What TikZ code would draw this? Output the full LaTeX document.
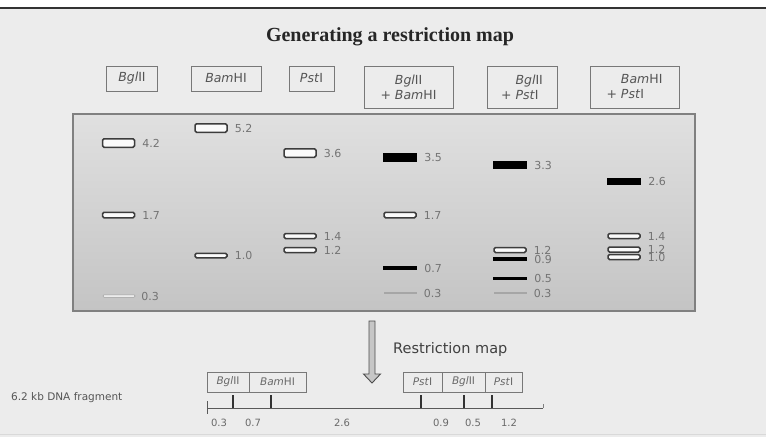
\documentclass[tikz,border=0pt]{standalone}
\usepackage{fontspec}
\setmainfont{Liberation Serif}
\setsansfont{DejaVu Sans}
\usetikzlibrary{positioning}

\definecolor{bg}{RGB}{236,236,236}
\definecolor{gelTop}{RGB}{224,224,224}
\definecolor{gelBot}{RGB}{196,196,196}
\definecolor{gelEdge}{RGB}{128,128,128}
\definecolor{boxEdge}{RGB}{120,120,120}
\definecolor{enzText}{RGB}{85,85,85}
\definecolor{bandEdge}{RGB}{60,60,60}
\definecolor{sizeText}{RGB}{115,115,115}
\definecolor{mapText}{RGB}{105,105,105}

\newcommand{\enz}[2]{\textit{#1}#2}

\tikzset{
  enzbox/.style={draw=boxEdge, line width=0.9pt, fill=bg, inner sep=0pt,
    minimum height=25, text=enzText, font=\sffamily\fontsize{12.5}{15}\selectfont},
  enzpair/.style={enzbox, minimum height=42, align=left},
  openband/.style={draw=bandEdge, line width=1.5pt, fill=white!96!gray,
    rounded corners=1.5pt, minimum width=32, inner sep=0pt},
  darkband/.style={fill=black, draw=none, minimum width=34, inner sep=0pt},
  faintband/.style={fill=gray!70, draw=none, minimum width=33, minimum height=2, inner sep=0pt},
  sizelabel/.style={inner sep=0pt, text=sizeText, font=\sffamily\fontsize{11}{11}\selectfont},
  mapbox/.style={draw=boxEdge, line width=0.9pt, fill=bg, inner sep=0pt,
    minimum height=20, text=mapText, font=\sffamily\fontsize{10.5}{12}\selectfont},
  maplabel/.style={inner sep=0pt, text=mapText, font=\sffamily\fontsize{10}{11}\selectfont},
  site/.style={line width=1.8pt, draw=black!80},
}

\begin{document}
\begin{tikzpicture}[x=1pt, y=-1pt]
\useasboundingbox (0,0) rectangle (766,437);

% page background and top rule
\fill[white] (0,0) rectangle (766,437);
\fill[bg] (0,8) rectangle (766,437);
\draw[black!80, line width=1.6pt] (0,8) -- (766,8);
\draw[black!15, line width=0.8pt] (0,434) -- (766,434);

% title
\node[font=\bfseries\fontsize{20}{23}\selectfont, text=black!85] (title) at (390,37)
  {Generating a restriction map};

% enzyme headings
\node[enzbox, minimum width=51] (hBgl) at (132,78.5) {\enz{Bgl}{II}};
\node[enzbox, minimum width=70] (hBam) at (226,78.5) {\enz{Bam}{HI}};
\node[enzbox, minimum width=45] (hPst) at (311.5,78.5) {\enz{Pst}{I}};
\node[enzpair, minimum width=89] (hBglBam) at (408.5,87)
  {\phantom{+ }\enz{Bgl}{II}\\+ \enz{Bam}{HI}};
\node[enzpair, minimum width=70] (hBglPst) at (522,87)
  {\phantom{+ }\enz{Bgl}{II}\\+ \enz{Pst}{I}};
\node[enzpair, minimum width=89] (hBamPst) at (634.5,87)
  {\phantom{+ }\enz{Bam}{HI}\\+ \enz{Pst}{I}};

% gel slab
\shade[top color=gelTop, bottom color=gelBot] (73,114) rectangle (695,311);
\draw[gelEdge, line width=1.3pt] (73,114) rectangle (695,311);

% lane 1: BglII
\node[openband, minimum height=8.5] (a1) at (118.5,143) {};
\node[sizelabel, right=7pt of a1] (a1t) {4.2};
\node[openband, minimum height=5.5] (a2) at (118.5,215) {};
\node[sizelabel, right=7pt of a2] (a2t) {1.7};
\node[draw=gray!75, line width=0.5pt, fill=white!85!gray, minimum width=32,
  minimum height=2.5, inner sep=0pt, rounded corners=1pt] (a3) at (119,296) {};
\node[sizelabel, right=6pt of a3] (a3t) {0.3};

% lane 2: BamHI
\node[openband, minimum height=8.5] (b1) at (211,128) {};
\node[sizelabel, right=7pt of b1] (b1t) {5.2};
\node[openband, minimum height=4.5] (b2) at (211,255.5) {};
\node[sizelabel, right=7pt of b2] (b2t) {1.0};

% lane 3: PstI
\node[openband, minimum height=8.5] (c1) at (300,153) {};
\node[sizelabel, right=7pt of c1] (c1t) {3.6};
\node[openband, minimum height=5] (c2) at (300,236) {};
\node[sizelabel, right=7pt of c2] (c2t) {1.4};
\node[openband, minimum height=5] (c3) at (300,250) {};
\node[sizelabel, right=7pt of c3] (c3t) {1.2};

% lane 4: BglII + BamHI
\node[darkband, minimum height=9] (d1) at (400,157.5) {};
\node[sizelabel, right=7pt of d1] (d1t) {3.5};
\node[openband, minimum height=5.5] (d2) at (400,215) {};
\node[sizelabel, right=7pt of d2] (d2t) {1.7};
\node[darkband, minimum height=3.5] (d3) at (400,268) {};
\node[sizelabel, right=7pt of d3] (d3t) {0.7};
\node[faintband] (d4) at (400,293) {};
\node[sizelabel, right=7pt of d4] (d4t) {0.3};

% lane 5: BglII + PstI
\node[darkband, minimum height=8.5] (e1) at (510,165) {};
\node[sizelabel, right=7pt of e1] (e1t) {3.3};
\node[openband, minimum height=5] (e2) at (510,250) {};
\node[sizelabel, right=7pt of e2] (e2t) {1.2};
\node[darkband, minimum height=4.5] (e3) at (510,259) {};
\node[sizelabel, right=7pt of e3] (e3t) {0.9};
\node[darkband, minimum height=3] (e4) at (510,278) {};
\node[sizelabel, right=7pt of e4] (e4t) {0.5};
\node[faintband] (e5) at (510,293) {};
\node[sizelabel, right=7pt of e5] (e5t) {0.3};

% lane 6: BamHI + PstI
\node[darkband, minimum height=7] (f1) at (624,181) {};
\node[sizelabel, right=7pt of f1] (f1t) {2.6};
\node[openband, minimum height=5] (f2) at (624,236) {};
\node[sizelabel, right=7pt of f2] (f2t) {1.4};
\node[openband, minimum height=5] (f3) at (624,249.5) {};
\node[sizelabel, right=7pt of f3] (f3t) {1.2};
\node[openband, minimum height=5] (f4) at (624,257) {};
\node[sizelabel, right=7pt of f4] (f4t) {1.0};

% hollow arrow from gel to map
\draw[black!70, fill=gray!45, line width=0.9pt]
  (369,321) -- (375,321) -- (375,374) -- (380.5,374) -- (372,383)
  -- (363.5,374) -- (369,374) -- cycle;
\node[anchor=west, inner sep=0pt, text=black!75,
  font=\sffamily\fontsize{14.5}{16}\selectfont] (rmap) at (393,349) {Restriction map};

% restriction map
\node[anchor=west, inner sep=0pt, text=enzText,
  font=\sffamily\fontsize{10.5}{12}\selectfont] (frag) at (11,398) {6.2 kb DNA fragment};

\node[mapbox, minimum width=42] (m1) at (228,382) {\enz{Bgl}{II}};
\node[mapbox, minimum width=57] (m2) at (277.5,382) {\enz{Bam}{HI}};
\node[mapbox, minimum width=39] (m3) at (422.5,382) {\enz{Pst}{I}};
\node[mapbox, minimum width=43] (m4) at (463.5,382) {\enz{Bgl}{II}};
\node[mapbox, minimum width=37] (m5) at (503.5,382) {\enz{Pst}{I}};

\coordinate (left) at (207,408);
\coordinate (right) at (543,408);
\draw[black!65, line width=0.9pt] (left) -- (right);
\draw[black!65, line width=0.9pt] (207,401) -- (207,414);
\draw[black!50, line width=0.7pt] (right) -- (543,404);

\coordinate (s1) at (233,408);
\coordinate (s2) at (271,408);
\coordinate (s3) at (421,408);
\coordinate (s4) at (464,408);
\coordinate (s5) at (492,408);
\foreach \s in {s1,s2,s3,s4,s5} \draw[site] (\s) -- ++(0,-13);

\node[maplabel] (k1) at (219,423) {0.3};
\node[maplabel] (k2) at (253,423) {0.7};
\node[maplabel] (k3) at (342,423) {2.6};
\node[maplabel] (k4) at (441,423) {0.9};
\node[maplabel] (k5) at (473,423) {0.5};
\node[maplabel] (k6) at (509,423) {1.2};
\end{tikzpicture}
\end{document}
